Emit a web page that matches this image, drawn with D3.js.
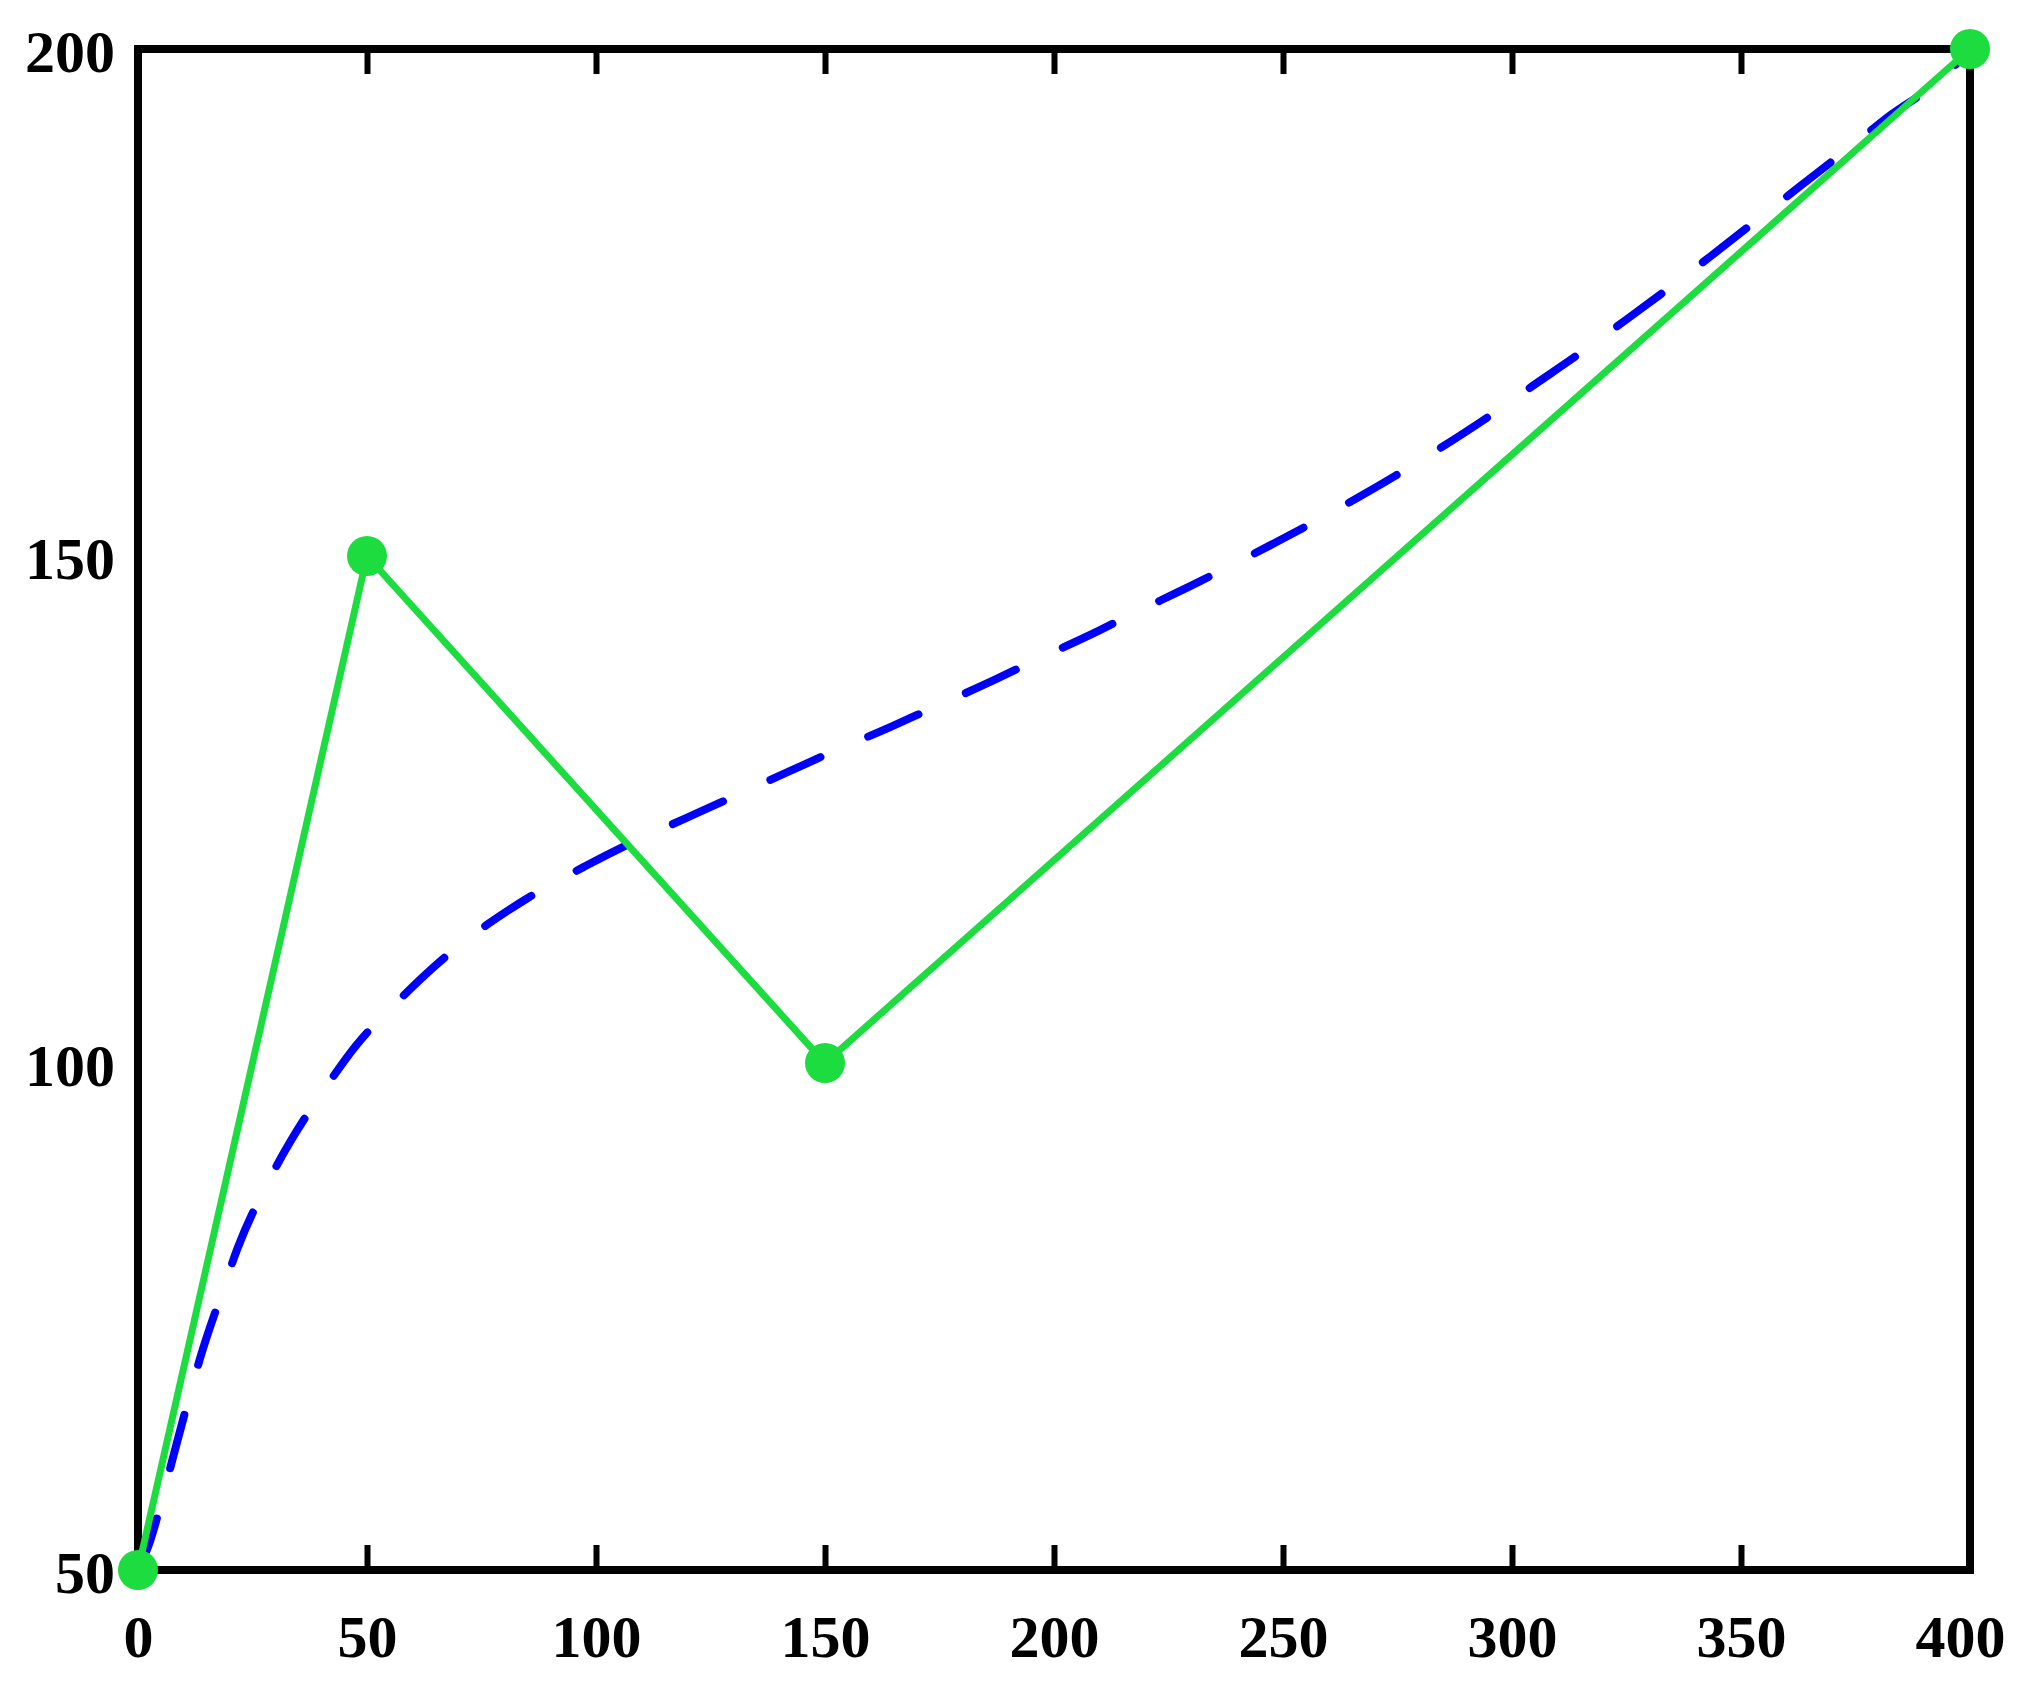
<!DOCTYPE html>
<html>
<head>
<meta charset="utf-8">
<script src="https://cdn.jsdelivr.net/npm/d3@7"></script>
<style>
  html, body { margin: 0; padding: 0; background: #fff; }
  svg { display: block; }
  .tick text { font-family: "Liberation Serif", "Times New Roman", serif; font-weight: bold; font-size: 60px; fill: #000; }
</style>
</head>
<body>
<div id="chart"></div>
<script>
// ---- data ----
const xTicks = [0, 50, 100, 150, 200, 250, 300, 350, 400];
const yTicks = [50, 100, 150, 200];

// green series (solid line with markers)
const greenX = [0, 50, 150, 400];
const greenY = [50, 150, 100, 200];

// blue series (dashed smooth curve)
const blueX = [0, 2.6, 4.8, 7.0, 10.9, 13.5, 18.3, 21.8, 28.2, 33.2, 41.3, 47.4, 57.2, 64.4, 76.4, 84.5, 97.6, 107.2, 119.9, 128.2, 142.4, 150.7, 164.6, 172.9, 187.1, 195.4, 209.6, 217.2, 231.4, 239.7, 249.1, 261.8, 274.5, 282.8, 295.4, 303.3, 315.5, 323.1, 335.4, 343.2, 354.8, 362.7, 374.9, 382.1, 394.1, 400];
const blueY = [50, 52.8, 56.2, 60.0, 66.6, 70.8, 77.3, 81.8, 88.1, 92.2, 97.8, 101.6, 106.3, 109.4, 113.7, 116.1, 119.4, 121.6, 124.2, 125.9, 128.8, 130.5, 133.2, 134.9, 137.8, 139.6, 142.6, 144.3, 147.4, 149.3, 151.5, 154.6, 157.9, 160.2, 163.9, 166.4, 170.2, 172.7, 176.8, 179.5, 183.6, 186.4, 190.7, 193.3, 197.2, 200];

// ---- layout ----
const W = 2029, H = 1696;
const mLeft = 138, mRight = 1970, mTop = 49, mBottom = 1570;

const svg = d3.select("#chart").append("svg")
  .attr("width", W).attr("height", H);

const x = d3.scaleLinear().domain([0, 400]).range([mLeft, mRight]);
const y = d3.scaleLinear().domain([50, 200]).range([mBottom, mTop]);

// bottom axis (ticks inward, labels below)
const gB = svg.append("g").attr("transform", `translate(0,${mBottom})`)
  .call(d3.axisBottom(x).tickValues(xTicks).tickSize(-25).tickFormat(d3.format("d")));
gB.select(".domain").remove();
gB.selectAll(".tick line").attr("stroke", "#000").attr("stroke-width", 6);
gB.selectAll(".tick text").attr("y", 87).attr("dy", 0)
  .attr("x", d => d === 400 ? -10 : 0);

// top axis (ticks inward, no labels)
const gT = svg.append("g").attr("transform", `translate(0,${mTop})`)
  .call(d3.axisTop(x).tickValues(xTicks).tickSize(-25).tickFormat(""));
gT.select(".domain").remove();
gT.selectAll(".tick line").attr("stroke", "#000").attr("stroke-width", 6);

// left axis (labels only)
const gL = svg.append("g").attr("transform", `translate(${mLeft},0)`)
  .call(d3.axisLeft(y).tickValues(yTicks).tickSize(0).tickFormat(d3.format("d")));
gL.select(".domain").remove();
gL.selectAll(".tick text").attr("x", -23).attr("dy", 0).attr("y", 22).attr("text-anchor", "end");

// frame
svg.append("rect")
  .attr("x", mLeft).attr("y", mTop)
  .attr("width", mRight - mLeft).attr("height", mBottom - mTop)
  .attr("fill", "none").attr("stroke", "#000").attr("stroke-width", 8);

// blue dashed curve
const blueData = blueX.map((v, i) => [v, blueY[i]]);
svg.append("path")
  .datum(blueData)
  .attr("fill", "none")
  .attr("stroke", "#0000ff")
  .attr("stroke-width", 8)
  .attr("stroke-linecap", "round")
  .attr("stroke-dasharray", "55 52")
  .attr("d", d3.line().x(d => x(d[0])).y(d => y(d[1])).curve(d3.curveMonotoneX));

// green line
const greenData = greenX.map((v, i) => [v, greenY[i]]);
svg.append("path")
  .datum(greenData)
  .attr("fill", "none")
  .attr("stroke", "#1ddc3f")
  .attr("stroke-width", 7)
  .attr("d", d3.line().x(d => x(d[0])).y(d => y(d[1])));

svg.selectAll("circle.marker")
  .data(greenData)
  .enter().append("circle")
  .attr("class", "marker")
  .attr("cx", d => x(d[0]))
  .attr("cy", d => y(d[1]))
  .attr("r", 20)
  .attr("fill", "#1ddc3f");
</script>
</body>
</html>
